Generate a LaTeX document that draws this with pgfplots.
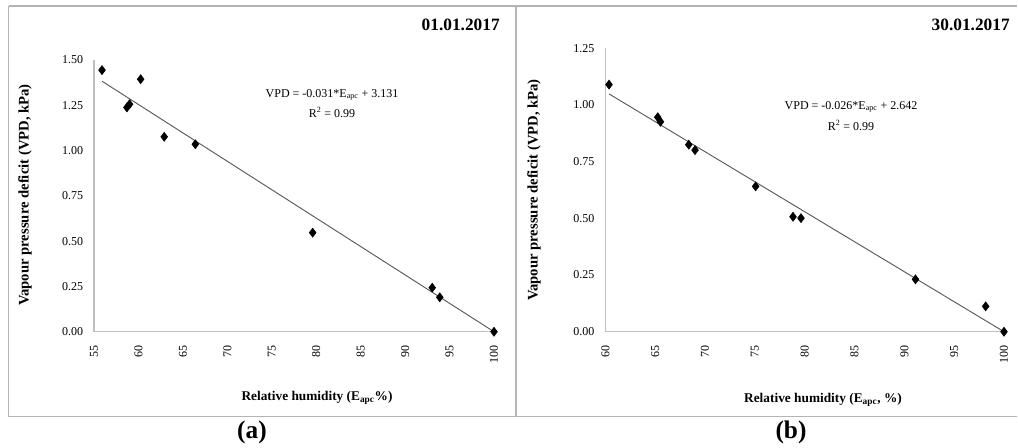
\documentclass[border=0pt]{standalone}
\usepackage{pgfplots}
\pgfplotsset{compat=1.18}
\usepackage{fontspec}
\setmainfont{Liberation Serif}
\definecolor{axgray}{HTML}{BFBFBF}
\definecolor{trend}{HTML}{595959}
\definecolor{frame}{HTML}{B4B4B4}
\pgfplotsset{
  panel/.style={
    scale only axis,
    clip=false,
    axis x line*=bottom,
    axis y line*=left,
    axis line style={axgray, line width=0.9pt},
    major tick length=0pt,
    tick style={draw=none},
    /pgf/number format/assume math mode=true,
    ticklabel style={font=\fontsize{9}{10}\selectfont, inner sep=0pt},
    yticklabel style={anchor=east, xshift=-8pt,
      /pgf/number format/fixed, /pgf/number format/fixed zerofill,
      /pgf/number format/precision=2},
    xticklabel style={rotate=90, anchor=east, xshift=-10pt},
    scaled y ticks=false,
  },
}
\begin{document}
\begin{tikzpicture}[x=0.75pt,y=-0.75pt]
\useasboundingbox (0,0) rectangle (1018,448);
% frames
\draw[frame, line width=1.2pt] (8.5,6) -- (1017,6);
\draw[frame, line width=1.2pt] (8.5,6) -- (8.5,416.5) -- (1017,416.5);
\draw[frame, line width=1.2pt] (516,6) -- (516,416.5);

% ---------- panel (a)
\begin{axis}[panel,
  at={(70.5pt,-248.8pt)}, anchor=south west,
  width=300pt, height=203.8pt,
  xmin=55, xmax=100, ymin=0, ymax=1.5,
  xtick={55,60,...,100},
  ytick={0,0.25,0.5,0.75,1,1.25,1.5},
]
\addplot[trend, line width=0.7pt] coordinates {(55.9,1.383) (100,0.0)};
\addplot[only marks, mark=diamond*, mark size=3.4pt, black] coordinates {
(55.9,1.444) (58.7,1.238) (59.0,1.256) (60.25,1.394) (62.9,1.076)
(66.4,1.035) (79.6,0.547) (93.05,0.243) (93.9,0.190) (100,0.0)};
\end{axis}

% ---------- panel (b)
\begin{axis}[panel,
  at={(454pt,-248.8pt)}, anchor=south west,
  width=299pt, height=212.55pt,
  xmin=60, xmax=100, ymin=0, ymax=1.25,
  xtick={60,65,...,100},
  ytick={0,0.25,0.5,0.75,1,1.25},
]
\addplot[trend, line width=0.7pt] coordinates {(60.37,1.049) (100,0.0)};
\addplot[only marks, mark=diamond*, mark size=3.4pt, black] coordinates {
(60.37,1.090) (65.26,0.946) (65.53,0.926) (68.37,0.825) (69.0,0.801)
(75.08,0.641) (78.83,0.507) (79.63,0.501) (91.12,0.231) (98.16,0.112) (100,0.0)};
\end{axis}

% texts (a)
\node[anchor=east, font=\fontsize{13}{15}\selectfont\bfseries, inner sep=0pt] at (500,25) {01.01.2017};
\node[font=\fontsize{9}{10}\selectfont, inner sep=0pt] at (332,95) {VPD = -0.031*E\textsubscript{apc} + 3.131};
\node[font=\fontsize{9}{10}\selectfont, inner sep=0pt] at (332,112) {R\textsuperscript{2} = 0.99};
\node[rotate=90, font=\fontsize{11}{12}\selectfont\bfseries, inner sep=0pt] at (25,195) {Vapour pressure deficit (VPD, kPa)};
\node[font=\fontsize{10}{12}\selectfont\bfseries, inner sep=0pt] at (317,398) {Relative humidity (E\textsubscript{apc}\%)};
\node[font=\fontsize{19}{22}\selectfont\bfseries, inner sep=0pt] at (252,432) {(a)};

% texts (b)
\node[anchor=east, font=\fontsize{13}{15}\selectfont\bfseries, inner sep=0pt] at (1010,25) {30.01.2017};
\node[font=\fontsize{9}{10}\selectfont, inner sep=0pt] at (851,107) {VPD = -0.026*E\textsubscript{apc} + 2.642};
\node[font=\fontsize{9}{10}\selectfont, inner sep=0pt] at (851,125) {R\textsuperscript{2} = 0.99};
\node[rotate=90, font=\fontsize{11}{12}\selectfont\bfseries, inner sep=0pt] at (534,190) {Vapour pressure deficit (VPD, kPa)};
\node[font=\fontsize{10}{12}\selectfont\bfseries, inner sep=0pt] at (823,400) {Relative humidity (E\textsubscript{apc}, \%)};
\node[font=\fontsize{19}{22}\selectfont\bfseries, inner sep=0pt] at (791,432) {(b)};
\end{tikzpicture}
\end{document}
